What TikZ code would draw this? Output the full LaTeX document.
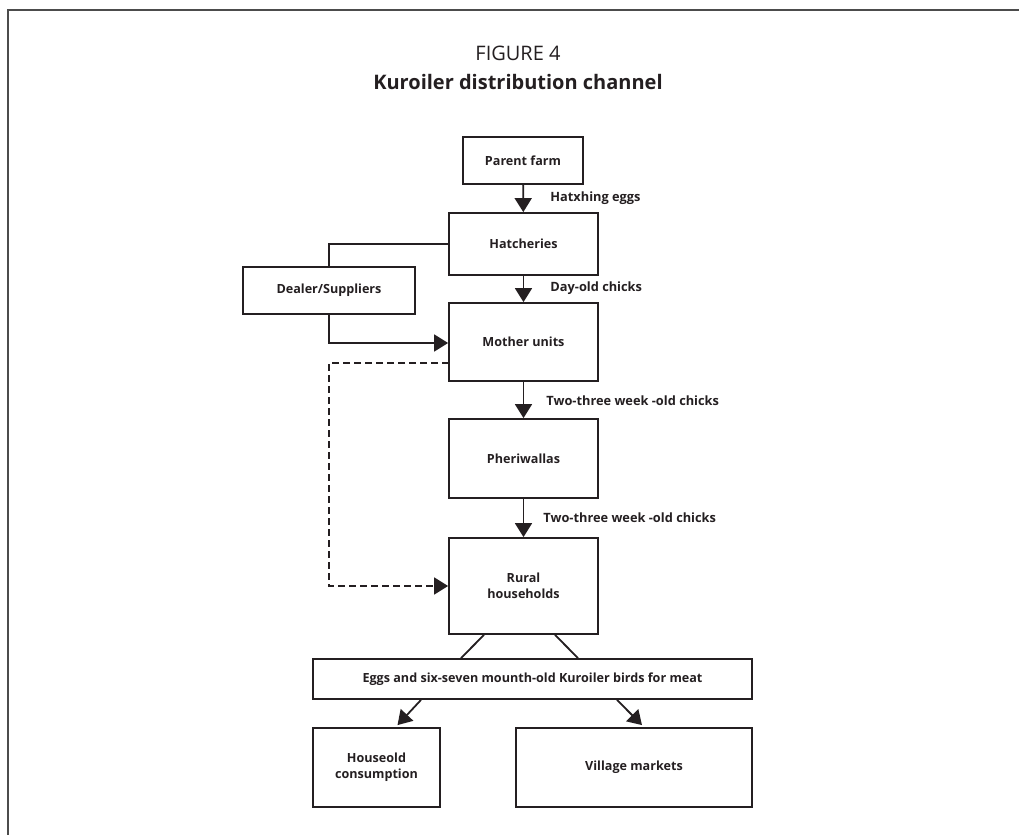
\documentclass[tikz,border=0pt]{standalone}
\usepackage{fontspec}
\setmainfont{Open Sans}
\usetikzlibrary{arrows.meta,calc}
\definecolor{FrameClr}{rgb}{0.3,0.3,0.3}
\definecolor{LineClr}{rgb}{0.14,0.12,0.13}

\tikzset{
  box/.style={draw=LineClr,line width=0.9pt,inner sep=0pt,align=center,
    text=LineClr,font=\fontsize{6.3}{7.8}\selectfont\bfseries},
  flow/.style={draw=LineClr,line width=0.9pt,-{Triangle[length=7pt,width=8.5pt]}},
  link/.style={draw=LineClr,line width=0.9pt},
  lbl/.style={anchor=west,inner sep=0pt,text=LineClr,font=\fontsize{6.4}{7.8}\selectfont\bfseries}
}

\begin{document}
\begin{tikzpicture}[x=0.5pt,y=-0.5pt]
\useasboundingbox (0,0) rectangle (1019,835);
\draw[FrameClr,line width=1pt] (8,835) -- (8,10) -- (1019,10);

% title
\node[text=LineClr,font=\fontsize{10}{12}\selectfont] (figno) at (518,53) {FIGURE 4};
\node[text=LineClr,font=\fontsize{10}{12}\selectfont\bfseries] (title) at (518,82) {Kuroiler distribution channel};

% boxes
\node[box,minimum width=60pt,minimum height=23.5pt] (parent) at (523,160.5) {Parent farm};
\node[box,minimum width=74.5pt,minimum height=31pt] (hatch) at (523.5,244) {Hatcheries};
\node[box,minimum width=86pt,minimum height=23.5pt] (dealer) at (329,290.5) {Dealer/Suppliers};
\node[box,minimum width=74.5pt,minimum height=39pt] (mother) at (523.5,342) {Mother units};
\node[box,minimum width=74.5pt,minimum height=39.5pt] (pheri) at (523.5,458.5) {Pheriwallas};
\node[box,minimum width=74.5pt,minimum height=48pt] (rural) at (523.5,586) {Rural\\households};
\node[box,minimum width=219.5pt,minimum height=20pt] (eggs) at (532.5,679) {Eggs and six-seven mounth-old Kuroiler birds for meat};
\node[box,minimum width=63.5pt,minimum height=39.5pt] (house) at (376.5,767.5) {Houseold\\consumption};
\node[box,minimum width=118pt,minimum height=39.5pt] (village) at (634,767.5) {Village markets};

% flow labels
\node[lbl] (lblhatch) at (550,198) {Hatxhing eggs};
\node[lbl] (lblday) at (550,288) {Day-old chicks};
\node[lbl] (lbltwoa) at (546,401) {Two-three week -old chicks};
\node[lbl] (lbltwob) at (543,518) {Two-three week -old chicks};

% connectors
\draw[flow] (parent) -- (hatch);
\draw[flow] (hatch) -- (mother);
\draw[flow] (mother) -- (pheri);
\draw[flow] (pheri) -- (rural);
\draw[link] (hatch.west) -| (dealer.north);
\draw[flow] (dealer.south) |- ($(mother.west)+(0,1)$);

\coordinate (dashstart) at (449,363);
\coordinate (dashcorner) at (329,363);
\draw[flow,dash pattern=on 3.5pt off 2pt] (dashstart) -- (dashcorner) |- (rural.west);

\draw[link] ($(rural.south)+(-39.5,0)$) -- ($(eggs.north)+(-71.5,0)$);
\draw[link] ($(rural.south)+(31.5,0)$) -- ($(eggs.north)+(45.5,0)$);
\draw[flow] ($(eggs.south)+(-111.5,0)$) -- ($(house.north)+(21,-2)$);
\draw[flow] ($(eggs.south)+(84.5,0)$) -- ($(village.north)+(8,-2)$);

\end{tikzpicture}
\end{document}
